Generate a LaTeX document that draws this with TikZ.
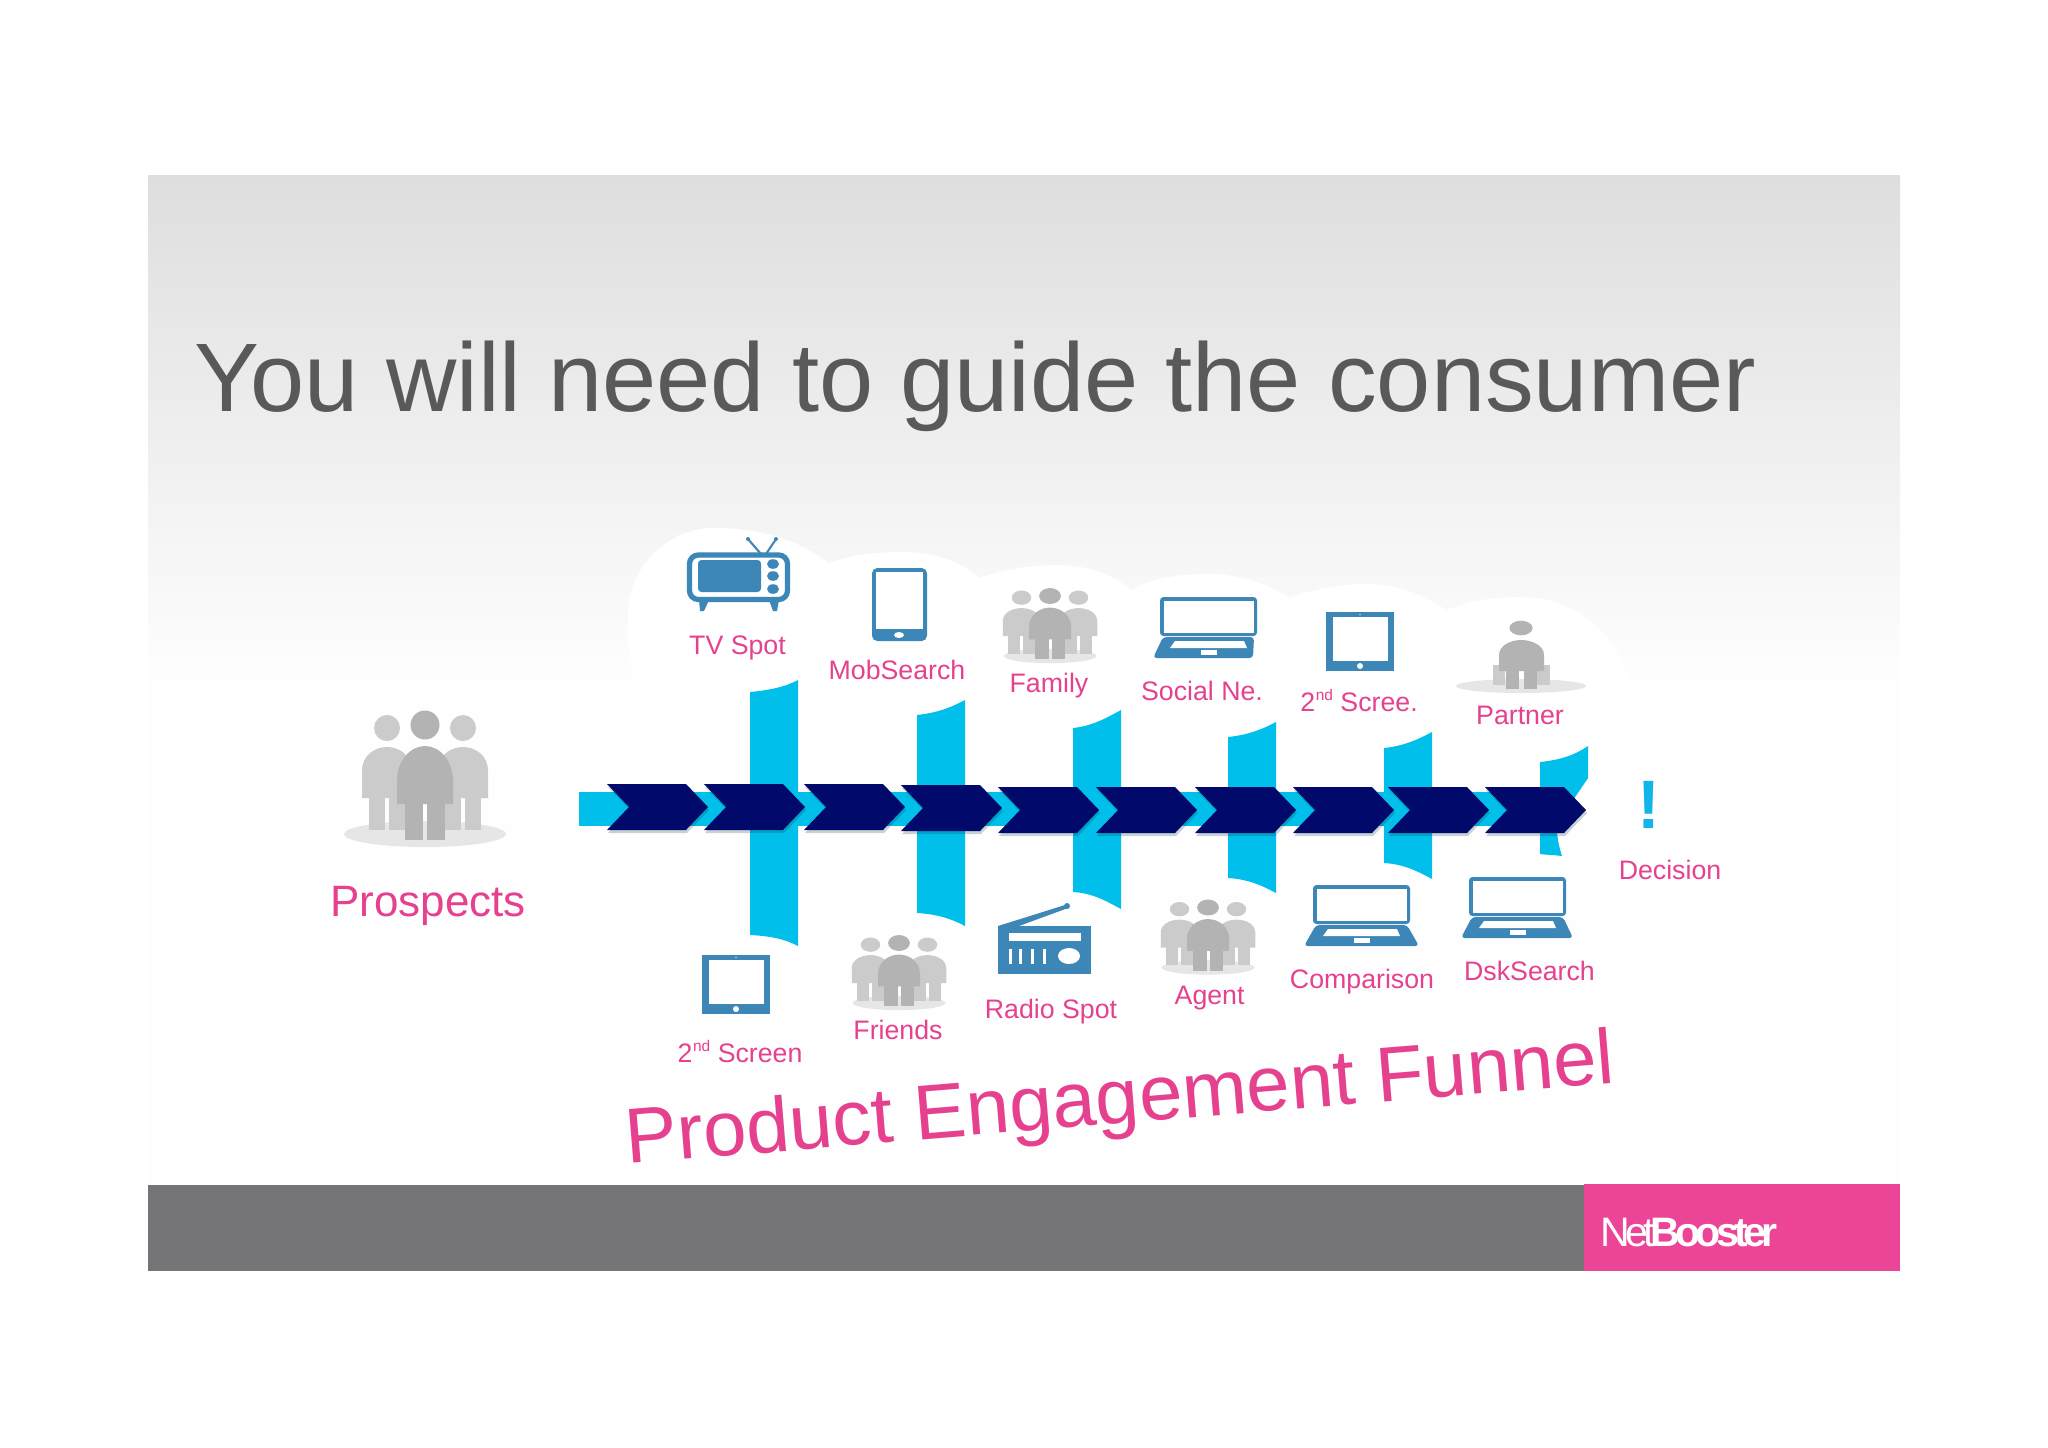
\documentclass[tikz,border=0pt]{standalone}
\usepackage{fontspec}
\setmainfont{Liberation Sans}
\newfontfamily\tightfont[LetterSpace=-11.5]{Liberation Sans}
\definecolor{cyanbar}{HTML}{00BFEA}
\definecolor{navychev}{HTML}{010A6A}
\definecolor{pinktxt}{HTML}{E6418F}
\definecolor{pinkbox}{HTML}{EC4496}
\definecolor{iconblue}{HTML}{3C87B8}
\definecolor{titlegrey}{HTML}{595959}
\definecolor{bargrey}{HTML}{757577}
\definecolor{sidegrey}{HTML}{CBCBCB}
\definecolor{midgrey}{HTML}{B3B3B3}
\definecolor{basegrey}{HTML}{E6E6E6}
\definecolor{gradtop}{HTML}{DEDEDE}
\definecolor{gradbot}{HTML}{FEFEFE}
\definecolor{bangcyan}{HTML}{12B5EA}
\tikzset{
  lbl/.style={text=pinktxt,inner sep=0pt,anchor=base,font=\fontsize{7.6pt}{9pt}\selectfont},
  cloudpart/.style={fill=white,draw=none},
  iconfill/.style={fill=iconblue,draw=none}
}
\newcommand{\ndmark}{\kern0.2pt\raisebox{2.9pt}{\fontsize{4.4pt}{5pt}\selectfont nd}}
\newcommand{\funnelbar}[5]{%
  \fill[cyanbar] (#1,#2) .. controls (#1+20,#2-2) and (#1+35,#3+7) .. (#1+48,#3)
    -- (#1+48,#5) .. controls (#1+35,#5-7) and (#1+20,#4+1) .. (#1,#4) -- cycle;}
\newcommand{\chevron}[2]{%
  \fill[black!70!cyanbar,opacity=.22] (#1+1,#2+3) -- (#1+23,#2+26) -- (#1+1,#2+49) -- (#1+80,#2+49) -- (#1+102,#2+26) -- (#1+80,#2+3) -- cycle;
  \fill[navychev] (#1,#2) -- (#1+22,#2+23) -- (#1,#2+46) -- (#1+79,#2+46) -- (#1+101,#2+23) -- (#1+79,#2) -- cycle;}
\newcommand{\crowd}[5]{%
  \begin{scope}[shift={(#1,#2)},xscale=#3,yscale=#4]
    \fill[basegrey] (0,109) ellipse [x radius=#5,y radius=13];
    \foreach \sx in {-38,38}{
      \fill[sidegrey] (\sx,3) ellipse [x radius=13,y radius=13];
      \fill[sidegrey] (\sx-25,73) -- (\sx-25,46) .. controls (\sx-25,30) and (\sx-12,22) .. (\sx,22)
        .. controls (\sx+12,22) and (\sx+25,30) .. (\sx+25,46) -- (\sx+25,73) -- cycle;
      \fill[sidegrey] (\sx-18,72) rectangle (\sx-2,105);
      \fill[sidegrey] (\sx+2,72) rectangle (\sx+18,105);
    }
    \fill[midgrey] (0,0) ellipse [x radius=14.5,y radius=14.5];
    \fill[midgrey] (-28,79) -- (-28,56) .. controls (-28,36) and (-15,21) .. (0,21)
      .. controls (15,21) and (28,36) .. (28,56) -- (28,79) -- cycle;
    \fill[midgrey] (-20,78) rectangle (-2,115);
    \fill[midgrey] (2,78) rectangle (20,115);
  \end{scope}}
\newcommand{\laptop}[4]{%
  \fill[iconfill,rounded corners=1pt] (#1,#2) rectangle (#1+97,#2+39);
  \fill[white] (#1+3.5,#2+3.5) rectangle (#1+93.5,#2+35.5);
  \fill[iconblue,rounded corners=1pt] (#1+3,#2+40) -- (#1+94,#2+40) -- (#1+97+#4,#2+61) -- (#1-#3,#2+61) -- cycle;
  \fill[white] (#1+15,#2+44) -- (#1+84,#2+44) -- (#1+87,#2+51) -- (#1+10,#2+51) -- cycle;
  \fill[white] (#1+41,#2+53) rectangle (#1+57,#2+58);}
\newcommand{\tablet}[2]{%
  \fill[iconblue] (#1,#2) rectangle (#1+68,#2+59);
  \fill[white] (#1+7,#2+5) rectangle (#1+62,#2+49);
  \fill[white] (#1+34,#2+54) ellipse [x radius=3,y radius=3];
  \fill[white] (#1+34,#2+2.5) circle (0.7);}
\begin{document}
\begin{tikzpicture}[x=0.01cm,y=-0.01cm]
\path[use as bounding box] (0,0) rectangle (2048,1447);
% slide background
\fill[gradbot] (148,175) rectangle (1900,1271);
\shade[top color=gradtop,bottom color=gradbot,draw=none] (148,175) rectangle (1900,680);
% cloud
\fill[cloudpart] (640,700) .. controls (630,670) and (627,640) .. (628,610)
  .. controls (630,565) and (670,528) .. (713,528) .. controls (770,528) and (805,545) .. (829,563)
  .. controls (850,555) and (875,552) .. (903,552) .. controls (940,552) and (965,565) .. (980,578)
  .. controls (1000,570) and (1030,565) .. (1057,565) .. controls (1095,565) and (1120,580) .. (1131,590)
  .. controls (1150,578) and (1180,574) .. (1208,574) .. controls (1245,574) and (1275,588) .. (1289,598)
  .. controls (1310,590) and (1340,584) .. (1366,584) .. controls (1405,584) and (1430,600) .. (1447,610)
  .. controls (1465,602) and (1490,597) .. (1520,597) .. controls (1570,597) and (1610,625) .. (1630,680)
  -- (1630,700) -- cycle;
% title
\node[anchor=base west,inner sep=0pt,text=titlegrey,font=\fontsize{27.7pt}{33pt}\selectfont] (title) at (194,411) {You will need to guide the consumer};
% footer
\fill[bargrey] (148,1185) rectangle (1584,1271);
\fill[pinkbox] (1584,1184) rectangle (1900,1271);
\node[anchor=base west,inner sep=0pt,text=white,font=\fontsize{11.7pt}{14pt}\tightfont] (brand) at (1600,1246) {Net\textbf{Booster}};
% funnel bars
\funnelbar{750}{692}{680}{935}{946}
\funnelbar{917}{715}{700}{913}{926}
\funnelbar{1073}{728}{710}{892}{909}
\funnelbar{1228}{737}{722}{878}{893}
\funnelbar{1384}{748}{732}{863}{879}
\fill[cyanbar] (1540,762) .. controls (1560,760) and (1575,755) .. (1588,746) -- (1588,778) -- (1565,812) -- (1557,833) .. controls (1558,842) and (1560,850) .. (1562,856) .. controls (1555,855) and (1548,855) .. (1540,854) -- cycle;
% band
\fill[cyanbar] (579,792) rectangle (1560,826);
% chevrons
\chevron{607}{784}
\chevron{704}{784}
\chevron{804}{784}
\chevron{901}{785}
\chevron{998}{787}
\chevron{1096}{787}
\chevron{1195}{787}
\chevron{1293}{787}
\chevron{1388}{787}
\chevron{1485}{787}
% prospects
\crowd{425}{725}{1}{1}{81}
\node[lbl,font=\fontsize{12.5pt}{15pt}\selectfont] (prospects) at (428,916) {Prospects};
% TV
\draw[iconblue,line width=1.5pt,rounded corners=2.5pt] (689.5,555) rectangle (787.5,599.5);
\fill[iconblue,rounded corners=1pt] (698,560) rectangle (761,592);
\foreach \ky in {564,576,589}{\fill[iconblue] (773,\ky) ellipse [x radius=6,y radius=4.8];}
\draw[iconblue,line width=.6pt] (761,554) -- (748,539);
\draw[iconblue,line width=.6pt] (766,554) -- (776,539);
\fill[iconblue] (748,539) circle (2);
\fill[iconblue] (776,539) circle (2);
\fill[iconblue] (699,600) -- (709,600) -- (704,611) -- (700,611) -- cycle;
\fill[iconblue] (769,600) -- (779,600) -- (777,611) -- (773,611) -- cycle;
\node[lbl] (tvspot) at (737.5,654) {TV Spot};
% phone
\fill[iconblue,rounded corners=1.5pt] (872,568) rectangle (927,641);
\fill[white] (876,572) rectangle (923,629);
\fill[white] (899,635) ellipse [x radius=5,y radius=3];
\node[lbl] (mob) at (897,679) {MobSearch};
% family
\crowd{1050}{596}{.75}{.55}{62}
\node[lbl] (family) at (1049,692) {Family};
% social
\laptop{1160}{597}{7}{-4}
\node[lbl] (social) at (1202,700) {Social Ne.};
% tablet 2
\tablet{1326}{612}
\node[lbl] (screen2) at (1359,711) {2\ndmark{} Scree.};
% partner
\fill[basegrey] (1521,686) ellipse [x radius=65,y radius=7];
\fill[sidegrey] (1493,665) rectangle (1505,685);
\fill[sidegrey] (1537,665) rectangle (1550,685);
\fill[midgrey] (1521,628) ellipse [x radius=11.6,y radius=7.3];
\fill[midgrey] (1499,671) -- (1499,655) .. controls (1499,646) and (1510,640) .. (1521,640) .. controls (1533,640) and (1544,646) .. (1544,655) -- (1544,671) -- cycle;
\fill[midgrey] (1506,670) rectangle (1519,689);
\fill[midgrey] (1524,670) rectangle (1537,689);
\node[lbl] (partner) at (1520,724) {Partner};
% decision
\node[anchor=base,inner sep=0pt,text=bangcyan,font=\bfseries\fontsize{19.5pt}{22pt}\selectfont] (bang) at (1649,828) {!};
\node[lbl] (decision) at (1670,879) {Decision};
% bottom row
\tablet{702}{955}
\node[lbl] (screen1) at (740,1062) {2\ndmark{} Screen};
\crowd{899}{943}{.75}{.55}{62}
\node[lbl] (friends) at (898,1039) {Friends};
% radio
\fill[iconblue] (998,926) rectangle (1091,974);
\fill[iconblue] (998,926) -- (1065,905) -- (1068,908) -- (1008,930) -- cycle;
\fill[iconblue] (1067,906) circle (3);
\fill[white] (1009,933) rectangle (1081,941);
\foreach \bx in {1009,1019,1031,1043}{\fill[white] (\bx,949) rectangle (\bx+2.5,964);}
\fill[white] (1069,956) ellipse [x radius=11,y radius=8];
\node[lbl] (radio) at (1051,1018) {Radio Spot};
\crowd{1208}{907.5}{.75}{.55}{62}
\node[lbl] (agent) at (1209.6,1004) {Agent};
\laptop{1313}{885}{9}{9}
\node[lbl] (comparison) at (1362,988) {Comparison};
\laptop{1469}{877}{8}{7}
\node[lbl] (dsk) at (1529.5,980) {DskSearch};
% funnel caption
\node[anchor=base west,inner sep=0pt,text=pinktxt,rotate=4.7,font=\fontsize{22.15pt}{27pt}\selectfont] (funnel) at (627,1164) {Product Engagement Funnel};
\end{tikzpicture}
\end{document}
